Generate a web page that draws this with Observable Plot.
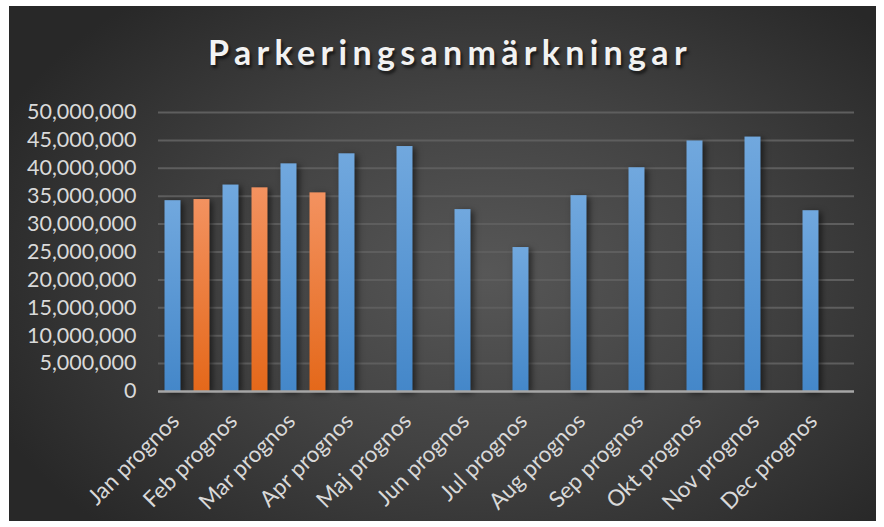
<!DOCTYPE html>
<html><head><meta charset="utf-8">
<script src="https://cdn.jsdelivr.net/npm/d3@7"></script>
<script src="https://cdn.jsdelivr.net/npm/@observablehq/plot@0.6"></script>
<style>
html,body{margin:0;padding:0;background:#fff;}
#wrap{position:relative;width:884px;height:527px;overflow:hidden;}
#bg{position:absolute;left:9px;top:6px;width:867px;height:515px;background:radial-gradient(ellipse 62% 70% at 55% 52%, #575757 0%, #424242 50%, #282828 100%);}
#title{position:absolute;left:8px;width:884px;top:35px;text-align:center;font:700 34px Lato;letter-spacing:5.3px;color:#f2f2f2;line-height:34px;text-shadow:2px 3px 3px rgba(0,0,0,0.6);}
#chart{position:absolute;left:0;top:0;}
.bar rect{filter:drop-shadow(3px 2px 3px rgba(0,0,0,0.55));}
.xax text{font-size:22.5px;}
</style></head>
<body><div id="wrap"><div id="bg"></div><div id="chart"></div><div id="title">Parkeringsanmärkningar</div></div>
<script>
const months = ["Jan prognos","Feb prognos","Mar prognos","Apr prognos","Maj prognos","Jun prognos","Jul prognos","Aug prognos","Sep prognos","Okt prognos","Nov prognos","Dec prognos"];
const prognos = [34200000,37000000,40800000,42600000,43900000,32600000,25800000,35100000,40100000,44900000,45600000,32400000];
const utfall = [34400000,36500000,35600000];
const yTicks = [0,5000000,10000000,15000000,20000000,25000000,30000000,35000000,40000000,45000000,50000000];

const rowsP = months.map((m,i)=>({month:m, value:prognos[i]}));
const rowsU = utfall.map((v,i)=>({month:months[i], value:v}));

function defs() {
  const d = d3.create("svg:defs");
  const mk = (id, top, bottom) => {
    const g = d.append("linearGradient").attr("id", id).attr("x1",0).attr("y1",0).attr("x2",0).attr("y2",1);
    g.append("stop").attr("offset","0%").attr("stop-color",top);
    g.append("stop").attr("offset","100%").attr("stop-color",bottom);
  };
  mk("gBlue","#71a8de","#4487c9");
  mk("gOrange","#f39260","#e4681a");
  return d.node();
}

const chart = Plot.plot({
  width:884, height:527, marginLeft:158, marginRight:30, marginTop:112, marginBottom:136,
  style:{background:"transparent", fontFamily:"Lato", fontSize:"21.5px", color:"#d9d9d9", overflow:"visible"},
  x:{type:"band", domain:months, padding:0},
  y:{domain:[0,50000000]},
  marks:[
    defs,
    Plot.gridY(yTicks.filter(d=>d>0), {stroke:"#5e5e5e", strokeOpacity:1, strokeWidth:2}),
    Plot.axisY(yTicks, {tickSize:0, tickPadding:22, tickFormat:d3.format(","), label:null}),
    Plot.axisX({tickSize:0, tickRotate:-45, tickPadding:26, label:null, dx:-12, className:"xax"}),
    Plot.barY(rowsP, {x:"month", y:"value", fill:"url(#gBlue)", insetLeft:6.5, insetRight:35.5, className:"bar"}),
    Plot.barY(rowsU, {x:"month", y:"value", fill:"url(#gOrange)", insetLeft:35.5, insetRight:6.5, className:"bar"}),
    Plot.ruleY([0], {stroke:"#a6a6a6", strokeWidth:2.5})
  ]
});
document.getElementById("chart").appendChild(chart);
</script>
</body></html>
